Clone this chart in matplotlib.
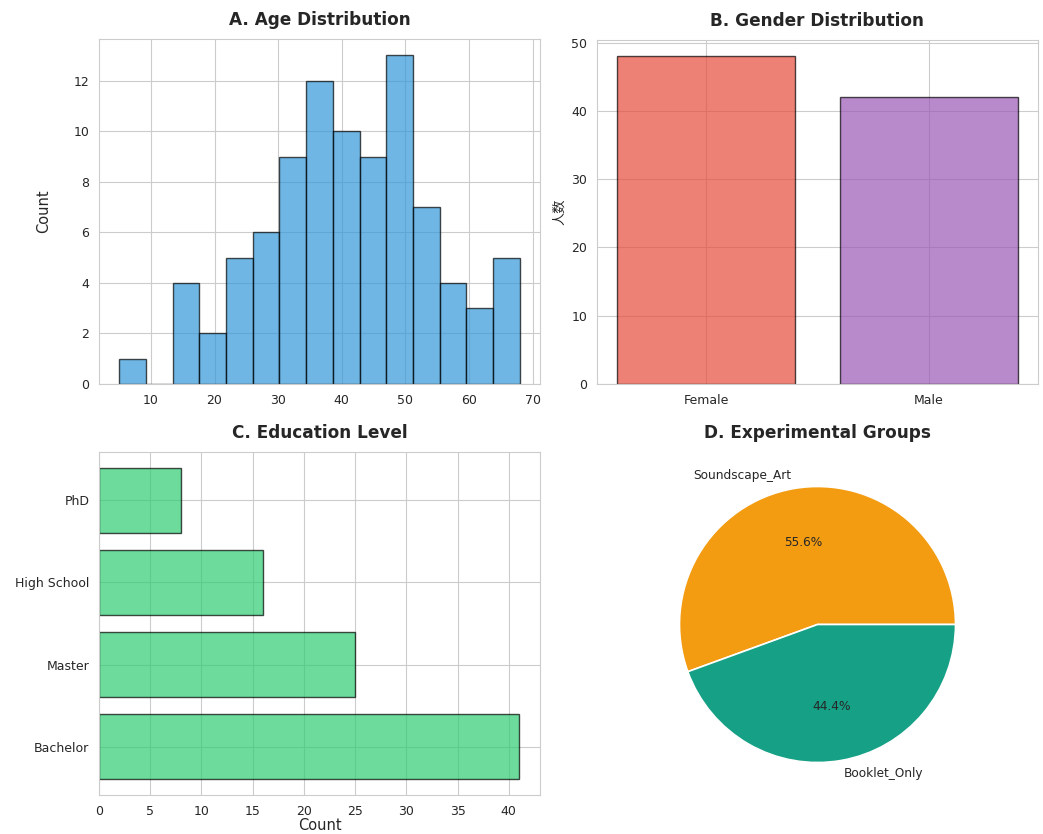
import matplotlib
matplotlib.use("Agg")
import matplotlib.pyplot as plt
import numpy as np
import seaborn as sns

sns.set_style("whitegrid")
plt.rcParams['font.family'] = ['DejaVu Sans', 'Noto Sans CJK SC']

# Age histogram: bin edges and counts per bin
age_min = 5.0
age_max = 68.0
n_bins = 15
age_counts = [1, 0, 4, 2, 5, 6, 9, 12, 10, 9, 13, 7, 4, 3, 5]

# Gender
genders = ["Female", "Male"]
gender_counts = [48, 42]
gender_colors = ["#e74c3c", "#9b59b6"]

# Education
education_levels = ["Bachelor", "Master", "High School", "PhD"]
education_counts = [41, 25, 16, 8]

# Experimental groups
groups = ["Soundscape_Art", "Booklet_Only"]
group_counts = [50, 40]
group_colors = ["#f39c12", "#16a085"]

W, H = 1043, 834
fig = plt.figure(figsize=(W / 100, H / 100), dpi=100)


def box(l, t, r, b):
    return [l / W, 1 - b / H, (r - l) / W, (b - t) / H]


ax_a = fig.add_axes(box(99, 39, 540, 384))
ax_b = fig.add_axes(box(597, 40, 1038, 384))
ax_c = fig.add_axes(box(99, 452, 540, 795))
ax_d = fig.add_axes(box(597, 452, 1038, 797))

title_kw = dict(fontsize=12.2, fontweight="bold", pad=10)
tick_size = 9

# A. Age distribution
edges = np.linspace(age_min, age_max, n_bins + 1)
centers = (edges[:-1] + edges[1:]) / 2
ax_a.hist(centers, bins=edges, weights=age_counts, color="#3498db",
          alpha=0.7, edgecolor="black", linewidth=1.0)
ax_a.set_title("A. Age Distribution", **title_kw)
ax_a.set_ylabel("Count", fontsize=10.5, labelpad=16)
ax_a.tick_params(labelsize=tick_size)

# B. Gender distribution
ax_b.bar(genders, gender_counts, color=gender_colors, alpha=0.7,
         edgecolor="black", linewidth=1.0)
ax_b.set_title("B. Gender Distribution", **title_kw)
ax_b.set_ylabel("人数", fontsize=9.5, labelpad=4,
                family=['Noto Sans CJK SC', 'DejaVu Sans'])
ax_b.tick_params(labelsize=tick_size)

# C. Education level
ax_c.barh(education_levels, education_counts, color="#2ecc71", alpha=0.7,
          edgecolor="black", linewidth=1.0)
ax_c.set_title("C. Education Level", **title_kw)
ax_c.set_xlabel("Count", fontsize=10.5, labelpad=0)
ax_c.tick_params(labelsize=tick_size)

# D. Experimental groups
ax_d.pie(group_counts, labels=groups, colors=group_colors, autopct="%1.1f%%",
         wedgeprops=dict(edgecolor="white", linewidth=1.2),
         textprops=dict(fontsize=8.7, color="#262626"))
ax_d.set_title("D. Experimental Groups", **title_kw)

fig.savefig("out.png", dpi=100)
